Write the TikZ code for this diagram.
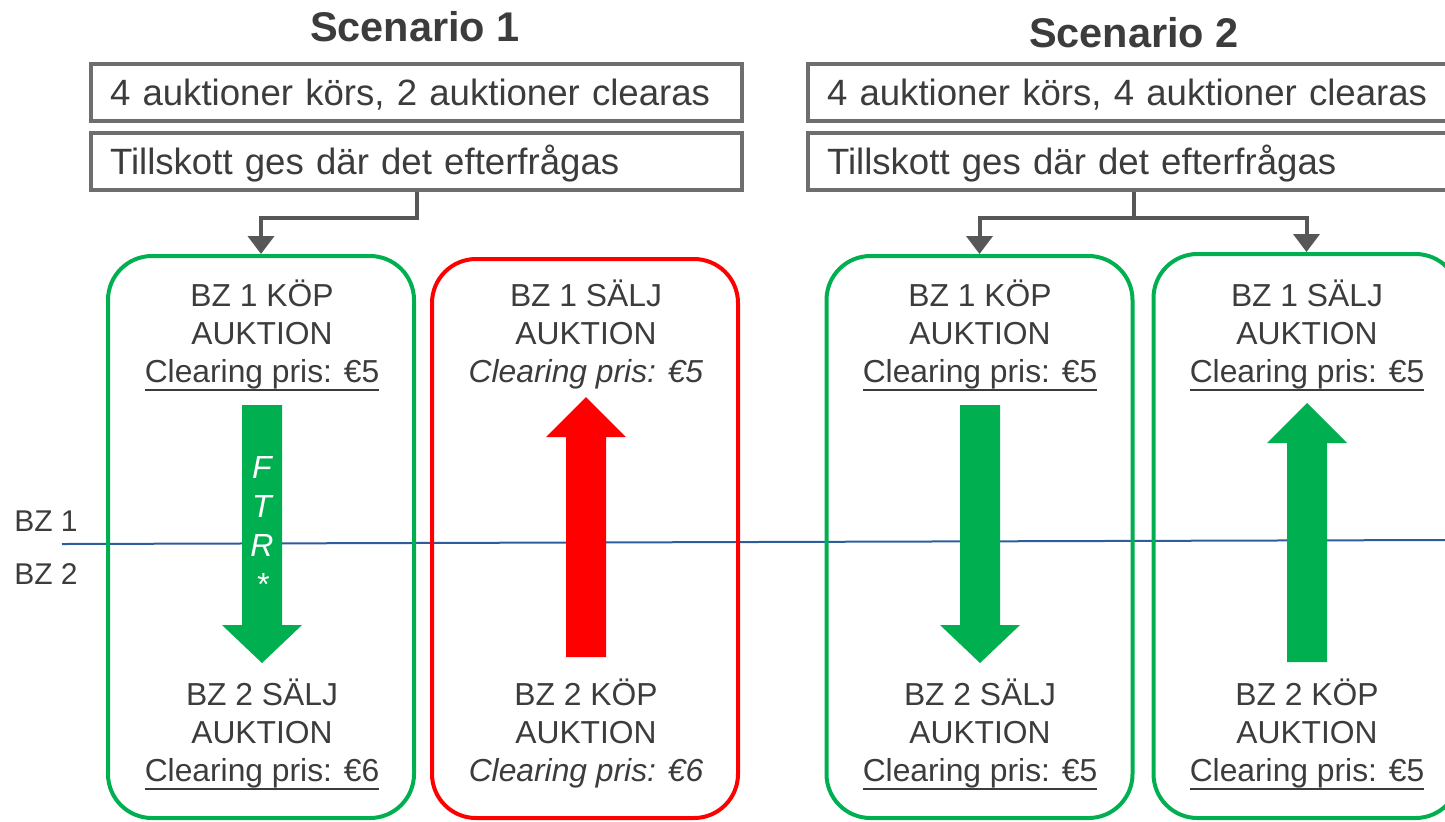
\documentclass[tikz,border=0pt]{standalone}
\usepackage{fontspec}
\setmainfont{Liberation Sans}
\usetikzlibrary{arrows.meta}

\definecolor{gron}{HTML}{00B050}
\definecolor{rod}{HTML}{FF0000}
\definecolor{ram}{HTML}{6E6E6E}
\definecolor{pilgra}{HTML}{575757}
\definecolor{textgra}{HTML}{3C3C3C}
\definecolor{zon}{HTML}{2E5D9C}

\newcommand\pris[1]{\leavevmode\vtop{\hbox{#1}\kern0.2pt\hrule height 0.9pt}}

\begin{document}
\begin{tikzpicture}[x=0.5pt,y=-0.5pt,
  every node/.style={text=textgra},
  rubrik/.style={font=\fontsize{20.75}{24}\selectfont\bfseries},
  ruta/.style={draw=ram, line width=2pt, minimum width=325.5pt,
    minimum height=28.5pt, text width=306.5pt, align=left,
    inner xsep=9.5pt, inner ysep=0pt, text height=1.25em, text depth=0em,
    font=\fontsize{18.3}{22}\selectfont},
  auktion/.style={draw, line width=2pt, rounded corners=22pt,
    minimum width=153pt, minimum height=281pt},
  block/.style={align=center, inner sep=0pt, font=\fontsize{15.9}{19}\selectfont},
  koppling/.style={draw=pilgra, line width=2pt,
    -{Triangle[width=13pt,length=9pt]}}]

  \useasboundingbox (0,0) rectangle (1445,821);

  \newcommand\pil[5]{%% x, tail, head base, tip, colour
    \fill[#5] (#1-20,#2) -- (#1+20,#2) -- (#1+20,#3) -- (#1+40,#3)
      -- (#1,#4) -- (#1-40,#3) -- (#1-20,#3) -- cycle;}

  %% zone border
  \draw[zon, line width=1pt] (62,544) -- (1445,540);
  \node[font=\fontsize{15}{18}\selectfont] (bz1) at (46,521.5) {BZ 1};
  \node[font=\fontsize{15}{18}\selectfont] (bz2) at (46,574.5) {BZ 2};

  %% scenario 1
  \node[rubrik] (scen1) at (415,27) {Scenario 1};
  \node[ruta] (antal1) at (416.5,92.5) {4 auktioner körs, 2 auktioner clearas};
  \node[ruta] (krav1) at (416.5,161.5) {Tillskott ges där det efterfrågas};

  \node[auktion, draw=gron] (g1) at (261,537) {};
  \node[auktion, draw=rod, minimum height=279.5pt] (r1) at (585,538.5) {};

  \draw[koppling] (krav1.south) -- ++(0,26) -| (g1.north);

  \pil{262}{405}{625}{663}{gron}
  \pil{586}{657}{437}{397}{rod}

  \node[block, white, font=\fontsize{16}{19.5}\selectfont\itshape]
    (ftr) at (262,526) {F\\T\\R\\*};

  \node[block, anchor=north] (g1upp) at (262,279)
    {BZ 1 KÖP\\AUKTION\\\pris{Clearing pris: €5}};
  \node[block, anchor=north] (g1ned) at (262,678)
    {BZ 2 SÄLJ\\AUKTION\\\pris{Clearing pris: €6}};
  \node[block, anchor=north] (r1upp) at (586,279)
    {BZ 1 SÄLJ\\AUKTION\\\textit{Clearing pris: €5}};
  \node[block, anchor=north] (r1ned) at (586,678)
    {BZ 2 KÖP\\AUKTION\\\textit{Clearing pris: €6}};

  %% scenario 2
  \node[rubrik] (scen2) at (1134,32.5) {Scenario 2};
  \node[ruta] (antal2) at (1133.5,92.5) {4 auktioner körs, 4 auktioner clearas};
  \node[ruta] (krav2) at (1133.5,161.5) {Tillskott ges där det efterfrågas};

  \node[auktion, draw=gron] (g2) at (979.5,537) {};
  \node[auktion, draw=gron, minimum height=282pt] (g3) at (1306.5,536) {};

  \draw[koppling] (krav2.south) -- ++(0,26) -| (g2.north);
  \draw[koppling] (krav2.south) -- ++(0,26) -| (g3.north);

  \pil{980}{405}{625}{663}{gron}
  \pil{1307}{662}{443}{403}{gron}

  \node[block, anchor=north] (g2upp) at (980,279)
    {BZ 1 KÖP\\AUKTION\\\pris{Clearing pris: €5}};
  \node[block, anchor=north] (g2ned) at (980,678)
    {BZ 2 SÄLJ\\AUKTION\\\pris{Clearing pris: €5}};
  \node[block, anchor=north] (g3upp) at (1307,279)
    {BZ 1 SÄLJ\\AUKTION\\\pris{Clearing pris: €5}};
  \node[block, anchor=north] (g3ned) at (1307,678)
    {BZ 2 KÖP\\AUKTION\\\pris{Clearing pris: €5}};

\end{tikzpicture}
\end{document}
